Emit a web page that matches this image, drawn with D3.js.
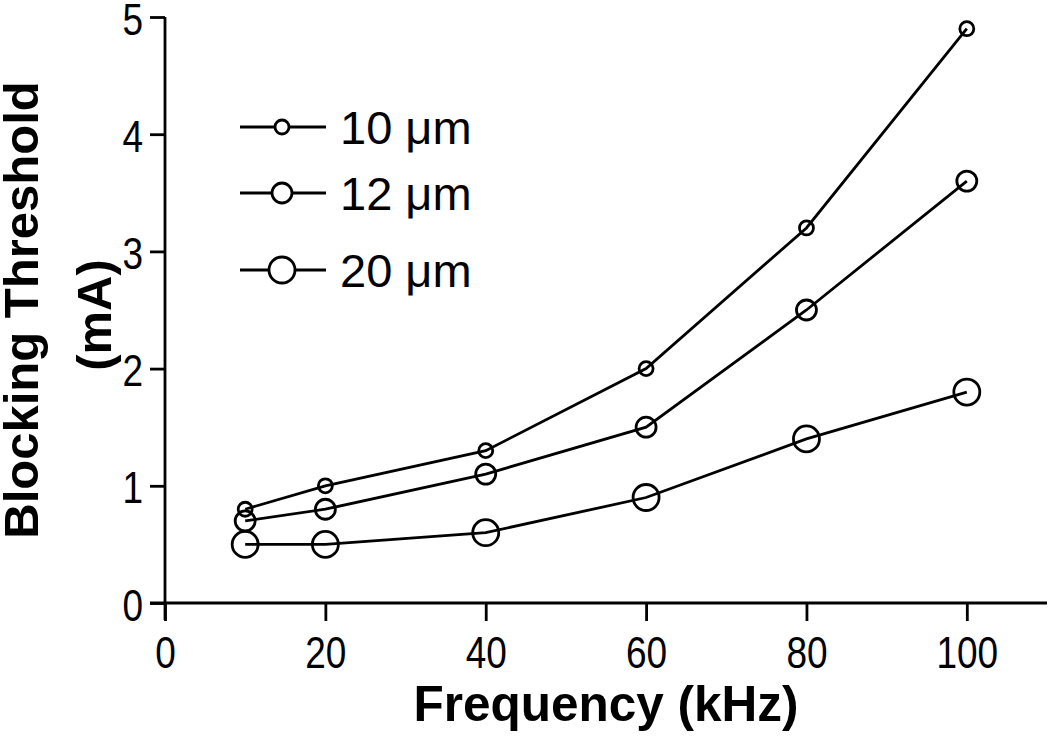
<!DOCTYPE html>
<html><head><meta charset="utf-8">
<script src="https://cdn.jsdelivr.net/npm/d3@7"></script>
<style>body{margin:0;background:#fff;} svg{display:block;font-family:"Liberation Sans",Arial,sans-serif;}</style>
</head><body>
<script>
const frequencies = [10, 20, 40, 60, 80, 100];
const series10 = [0.8, 1.0, 1.3, 2.0, 3.2, 4.9];
const series12 = [0.7, 0.8, 1.1, 1.5, 2.5, 3.6];
const series20 = [0.5, 0.5, 0.6, 0.9, 1.4, 1.8];
const seriesNames = ["10 \u03bcm", "12 \u03bcm", "20 \u03bcm"];
const xTicks = [0, 20, 40, 60, 80, 100];
const yTicks = [0, 1, 2, 3, 4, 5];

const series = [
  {name: seriesNames[0], values: series10, r: 7},
  {name: seriesNames[1], values: series12, r: 10},
  {name: seriesNames[2], values: series20, r: 13}
];

const W = 1050, H = 740;
const svg = d3.select("body").append("svg").attr("width", W).attr("height", H);
const x = d3.scaleLinear().domain([0, 110]).range([165, 1047]);
const y = d3.scaleLinear().domain([0, 5]).range([603, 17]);
const SY = 1.2;
const SW = 2.8;

const xAxis = svg.append("g").attr("transform", "translate(0,603)")
  .call(d3.axisBottom(x).tickValues(xTicks).tickFormat(d3.format("d")).tickSize(18).tickSizeOuter(0));
const yAxis = svg.append("g").attr("transform", "translate(165,0)")
  .call(d3.axisLeft(y).tickValues(yTicks).tickFormat(d3.format("d")).tickSize(15).tickSizeOuter(0));
[xAxis, yAxis].forEach(a => {
  a.attr("font-size", null).attr("font-family", null);
  a.selectAll("path,line").attr("stroke", "#000").attr("stroke-width", SW);
  a.selectAll("text").attr("font-size", 37).attr("fill", "#000").attr("dy", 0)
    .attr("transform", `scale(1,${SY})`);
});
xAxis.selectAll("text").attr("y", 65 / SY);
yAxis.selectAll("text").attr("x", -22).attr("y", 17 / SY);
yAxis.select(".domain").attr("d", "M0,620V17");
xAxis.select(".domain").attr("d", "M150,0H1047");

const line = d3.line().x((d, i) => x(frequencies[i])).y(d => y(d));
series.forEach(s => {
  svg.append("path").attr("d", line(s.values)).attr("fill", "none").attr("stroke", "#000").attr("stroke-width", SW);
  svg.selectAll(null).data(s.values).enter().append("circle")
    .attr("cx", (d, i) => x(frequencies[i])).attr("cy", d => y(d)).attr("r", s.r)
    .attr("fill", "none").attr("stroke", "#000").attr("stroke-width", SW);
});

// legend
const legY = [127, 193, 270];
series.forEach((s, i) => {
  const g = svg.append("g").attr("transform", `translate(0,${legY[i]})`);
  g.append("line").attr("x1", 240).attr("x2", 326).attr("y1", 0).attr("y2", 0).attr("stroke", "#000").attr("stroke-width", SW);
  g.append("circle").attr("cx", 282).attr("cy", 0).attr("r", s.r).attr("fill", "#fff").attr("stroke", "#000").attr("stroke-width", SW);
  g.append("text").attr("x", 340).attr("y", 17).attr("font-size", 47).text(s.name);
});

svg.append("text").attr("x", 606).attr("y", 721).attr("text-anchor", "middle")
  .attr("font-size", 49.5).attr("font-weight", "bold").text("Frequency (kHz)");
const yt = svg.append("text").attr("transform", "translate(0,310) rotate(-90)").attr("text-anchor", "middle")
  .attr("font-size", 49).attr("font-weight", "bold");
yt.append("tspan").attr("x", 0).attr("y", 38).text("Blocking Threshold");
yt.append("tspan").attr("x", -5).attr("y", 111).text("(mA)");
</script>
</body></html>
